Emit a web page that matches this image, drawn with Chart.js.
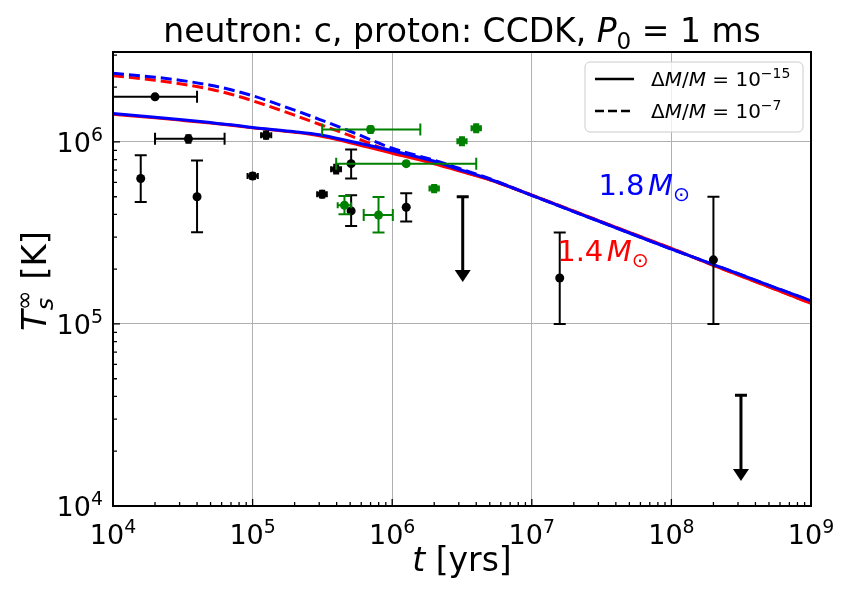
<!DOCTYPE html>
<html>
<head>
<meta charset="utf-8">
<script src="https://cdn.jsdelivr.net/npm/chart.js@4.4.1/dist/chart.umd.min.js"></script>
<style>
  html, body { margin: 0; padding: 0; background: #fff; }
</style>
</head>
<body>
<canvas id="chart" width="850" height="597"></canvas>
<script>
const FONT = '"DejaVu Sans", sans-serif';

// --- cooling curves (age in yrs, surface temperature in K) ---
const ageGrid = [1e4, 2e4, 3e4, 5e4, 7e4, 1e5, 2e5, 3e5, 5e5, 1e6, 2e6, 3e6, 5e6,
                 1e7, 2e7, 3e7, 5e7, 1e8, 2e8, 3e8, 5e8, 1e9];
// dM/M = 1e-15 (solid)
const temp18Thin = [1.432e6, 1.367e6, 1.328e6, 1.278e6, 1.243e6, 1.20e6, 1.138e6, 1.095e6, 1.009e6, 8.95e5, 7.83e5, 7.08e5, 6.24e5,
                    5.09e5, 4.14e5, 3.68e5, 3.16e5, 2.58e5, 2.12e5, 1.89e5, 1.63e5, 1.34e5];
const temp14Thin = [1.419e6, 1.356e6, 1.318e6, 1.27e6, 1.236e6, 1.195e6, 1.13e6, 1.082e6, 0.99e6, 8.67e5, 7.59e5, 6.94e5, 6.2e5,
                    5.1e5, 4.17e5, 3.7e5, 3.18e5, 2.6e5, 2.1e5, 1.86e5, 1.6e5, 1.3e5];
// dM/M = 1e-7 (dashed)
const temp18Thick = [2.385e6, 2.268e6, 2.183e6, 2.049e6, 1.935e6, 1.794e6, 1.494e6, 1.332e6, 1.145e6, 9.23e5, 7.93e5, 7.17e5, 6.28e5,
                     5.09e5, 4.14e5, 3.68e5, 3.16e5, 2.58e5, 2.12e5, 1.89e5, 1.63e5, 1.34e5];
const temp14Thick = [2.311e6, 2.183e6, 2.088e6, 1.948e6, 1.828e6, 1.684e6, 1.402e6, 1.251e6, 1.082e6, 8.84e5, 7.69e5, 6.99e5, 6.2e5,
                     5.1e5, 4.17e5, 3.7e5, 3.18e5, 2.6e5, 2.1e5, 1.86e5, 1.6e5, 1.3e5];

// --- observed neutron stars (black) ---
const obsAge    = [2e4, 3.47e4, 1.58e4, 4e4, 1e5, 1.25e5, 3.15e5, 3.97e5, 5.08e5, 5.08e5, 1.26e6, 1.585e7, 2e8];
const obsAgeLo  = [1e4, 2e4, 1.58e4, 4e4, 9.2e4, 1.15e5, 2.9e5, 3.65e5, 5.08e5, 5.08e5, 1.26e6, 1.585e7, 2e8];
const obsAgeHi  = [4e4, 6.3e4, 1.58e4, 4e4, 1.09e5, 1.36e5, 3.4e5, 4.3e5, 5.08e5, 5.08e5, 1.26e6, 1.585e7, 2e8];
const obsTemp   = [1.77e6, 1.04e6, 6.3e5, 5.0e5, 6.5e5, 1.09e6, 5.16e5, 7.08e5, 7.6e5, 4.18e5, 4.38e5, 1.79e5, 2.25e5];
const obsTempLo = [1.72e6, 0.99e6, 4.68e5, 3.19e5, 6.25e5, 1.04e6, 4.95e5, 6.7e5, 6.3e5, 3.45e5, 3.65e5, 1.0e5, 1.0e5];
const obsTempHi = [1.82e6, 1.09e6, 8.45e5, 7.9e5, 6.75e5, 1.14e6, 5.4e5, 7.5e5, 9.1e5, 5.1e5, 5.22e5, 3.18e5, 5.0e5];

// --- observed neutron stars (green) ---
const grnAge    = [7e5, 1.26e6, 4.55e5, 7.98e5, 2e6, 3.16e6, 4.0e6];
const grnAgeLo  = [3.15e5, 3.97e5, 4.07e5, 6.25e5, 1.85e6, 2.93e6, 3.7e6];
const grnAgeHi  = [1.59e6, 4.0e6, 5.08e5, 1.01e6, 2.16e6, 3.41e6, 4.32e6];
const grnTemp   = [1.17e6, 7.6e5, 4.49e5, 3.97e5, 5.55e5, 1.01e6, 1.19e6];
const grnTempLo = [1.12e6, 7.4e5, 4.01e5, 3.18e5, 5.3e5, 0.96e6, 1.13e6];
const grnTempHi = [1.22e6, 7.8e5, 5.05e5, 4.99e5, 5.8e5, 1.06e6, 1.25e6];

// --- upper limits ---
const limAge  = [3.2e6, 3.15e8];
const limTemp = [5.0e5, 4.06e4];
const limTip  = [1.7e5, 1.37e4];

const xDecades = [4, 5, 6, 7, 8, 9];
const yDecades = [4, 5, 6];

const pts = (xs, ys) => xs.map((x, i) => ({ x, y: ys[i] }));

// --- rich text helper (italics, sub/superscripts) ---
function fnt(size, it) { return `${it ? "italic " : ""}${size}px ${FONT}`; }
function segWidth(ctx, s, size) {
  if (s.stack) {
    ctx.font = fnt(size * 0.7, s.stack[0].it);
    const a = ctx.measureText(s.stack[0].t).width;
    ctx.font = fnt(size * 0.7, s.stack[1].it);
    const b = ctx.measureText(s.stack[1].t).width;
    return Math.max(a, b);
  }
  ctx.font = fnt(s.pos ? size * 0.7 : size, s.it);
  return ctx.measureText(s.t).width + (s.gap || 0) * size;
}
function drawRich(ctx, segs, x, y, size, align) {
  const ws = segs.map(s => segWidth(ctx, s, size));
  const total = ws.reduce((a, b) => a + b, 0);
  let cx = align === "center" ? x - total / 2 : align === "right" ? x - total : x;
  ctx.textAlign = "left";
  ctx.textBaseline = "alphabetic";
  segs.forEach((s, i) => {
    if (s.stack) {
      ctx.font = fnt(size * 0.7, s.stack[0].it);
      ctx.fillText(s.stack[0].t, cx, y + size * 0.22);
      ctx.font = fnt(size * 0.7, s.stack[1].it);
      ctx.fillText(s.stack[1].t, cx, y - size * 0.42);
    } else {
      ctx.font = fnt(s.pos ? size * 0.7 : size, s.it);
      const dy = s.pos === "sup" ? -size * 0.42 : s.pos === "sub" ? size * 0.2 : 0;
      ctx.fillText(s.t, cx, y + dy);
    }
    cx += ws[i];
  });
  return total;
}

// --- error bars + upper limits ---
const errorBarPlugin = {
  id: "errbars",
  afterDatasetsDraw(chart) {
    const { ctx, scales: { x, y } } = chart;
    const bars = (ages, lo, hi, temps, tlo, thi, color) => {
      ctx.save();
      ctx.strokeStyle = color;
      ctx.lineWidth = 2;
      ages.forEach((a, i) => {
        const px = x.getPixelForValue(a), py = y.getPixelForValue(temps[i]);
        if (lo[i] !== hi[i]) {
          const x0 = x.getPixelForValue(lo[i]), x1 = x.getPixelForValue(hi[i]);
          const cap = Math.abs(x1 - x0) < 14 ? 3 : 6;
          ctx.beginPath();
          ctx.moveTo(x0, py); ctx.lineTo(x1, py);
          ctx.moveTo(x0, py - cap); ctx.lineTo(x0, py + cap);
          ctx.moveTo(x1, py - cap); ctx.lineTo(x1, py + cap);
          ctx.stroke();
        }
        if (tlo[i] !== thi[i]) {
          const y0 = y.getPixelForValue(tlo[i]), y1 = y.getPixelForValue(thi[i]);
          const cap = Math.abs(y1 - y0) < 14 ? 3 : 6;
          ctx.beginPath();
          ctx.moveTo(px, y0); ctx.lineTo(px, y1);
          ctx.moveTo(px - cap, y0); ctx.lineTo(px + cap, y0);
          ctx.moveTo(px - cap, y1); ctx.lineTo(px + cap, y1);
          ctx.stroke();
        }
      });
      ctx.restore();
    };
    bars(obsAge, obsAgeLo, obsAgeHi, obsTemp, obsTempLo, obsTempHi, "#000000");
    bars(grnAge, grnAgeLo, grnAgeHi, grnTemp, grnTempLo, grnTempHi, "#008000");

    // upper limits: cap on top, arrow pointing down
    ctx.save();
    ctx.strokeStyle = "#000";
    ctx.fillStyle = "#000";
    ctx.lineWidth = 3;
    limAge.forEach((a, i) => {
      const px = x.getPixelForValue(a);
      const y0 = y.getPixelForValue(limTemp[i]);
      const y1 = y.getPixelForValue(limTip[i]);
      ctx.beginPath();
      ctx.moveTo(px - 6, y0); ctx.lineTo(px + 6, y0);
      ctx.moveTo(px, y0); ctx.lineTo(px, y1 - 10);
      ctx.stroke();
      ctx.beginPath();
      ctx.moveTo(px - 8, y1 - 12); ctx.lineTo(px + 8, y1 - 12); ctx.lineTo(px, y1);
      ctx.closePath();
      ctx.fill();
    });
    ctx.restore();
  }
};

// --- frame, ticks, labels, legend, annotations ---
const decorPlugin = {
  id: "decor",
  afterDraw(chart) {
    const { ctx, chartArea: a, scales: { x, y } } = chart;
    ctx.save();
    ctx.fillStyle = "#000";
    ctx.strokeStyle = "#000";

    // inward ticks on left and bottom
    ctx.lineWidth = 1.3;
    ctx.beginPath();
    for (let n = 4; n <= 9; n++) {
      for (let k = 1; k <= 9; k++) {
        const v = k * Math.pow(10, n);
        if (v > 1e9) break;
        const px = x.getPixelForValue(v);
        const len = k === 1 ? 7 : 4;
        ctx.moveTo(px, a.bottom); ctx.lineTo(px, a.bottom - len);
      }
    }
    for (let n = 4; n <= 6; n++) {
      for (let k = 1; k <= 9; k++) {
        const v = k * Math.pow(10, n);
        if (v > y.max) break;
        const py = y.getPixelForValue(v);
        const len = k === 1 ? 7 : 4;
        ctx.moveTo(a.left, py); ctx.lineTo(a.left + len, py);
      }
    }
    ctx.stroke();

    // spines
    ctx.lineWidth = 2;
    ctx.strokeRect(a.left, a.top, a.right - a.left, a.bottom - a.top);

    // tick labels
    const tsz = 27;
    xDecades.forEach(n => {
      const px = x.getPixelForValue(Math.pow(10, n));
      drawRich(ctx, [{ t: "10" }, { t: String(n), pos: "sup" }], px, a.bottom + 38, tsz, "center");
    });
    yDecades.forEach(n => {
      const py = y.getPixelForValue(Math.pow(10, n));
      drawRich(ctx, [{ t: "10" }, { t: String(n), pos: "sup" }], a.left - 10, py + 10, tsz, "right");
    });

    // title
    drawRich(ctx, [{ t: "neutron: c, proton: CCDK, " }, { t: "P", it: true }, { t: "0", pos: "sub" },
                   { t: " = 1 ms" }], (a.left + a.right) / 2, 42, 33, "center");
    // x label
    drawRich(ctx, [{ t: "t", it: true }, { t: " [yrs]" }], (a.left + a.right) / 2, 571, 33, "center");
    // y label
    ctx.save();
    ctx.translate(46, (a.top + a.bottom) / 2 + 2);
    ctx.rotate(-Math.PI / 2);
    drawRich(ctx, [{ t: "T", it: true }, { stack: [{ t: "s", it: true }, { t: "∞" }] }, { t: " [K]" }],
             0, 0, 34, "center");
    ctx.restore();

    // mass annotations
    ctx.fillStyle = "#0000ff";
    drawRich(ctx, [{ t: "1.8", gap: 0.12 }, { t: "M", it: true }, { t: "⊙", pos: "sub" }],
             x.getPixelForValue(3e7), y.getPixelForValue(5.1e5), 29, "left");
    ctx.fillStyle = "#ff0000";
    drawRich(ctx, [{ t: "1.4", gap: 0.12 }, { t: "M", it: true }, { t: "⊙", pos: "sub" }],
             x.getPixelForValue(1.52e7), y.getPixelForValue(2.21e5), 29, "left");

    // legend
    const lx = 585, ly = 62, lw = 218, lh = 70, r = 5;
    ctx.beginPath();
    ctx.moveTo(lx + r, ly);
    ctx.arcTo(lx + lw, ly, lx + lw, ly + lh, r);
    ctx.arcTo(lx + lw, ly + lh, lx, ly + lh, r);
    ctx.arcTo(lx, ly + lh, lx, ly, r);
    ctx.arcTo(lx, ly, lx + lw, ly, r);
    ctx.closePath();
    ctx.fillStyle = "rgba(255,255,255,0.8)";
    ctx.fill();
    ctx.strokeStyle = "#cccccc";
    ctx.lineWidth = 1;
    ctx.stroke();

    ctx.strokeStyle = "#000";
    ctx.lineWidth = 2.6;
    ctx.beginPath(); ctx.moveTo(595, 79); ctx.lineTo(634, 79); ctx.stroke();
    ctx.setLineDash([9, 4]);
    ctx.beginPath(); ctx.moveTo(595, 111); ctx.lineTo(634, 111); ctx.stroke();
    ctx.setLineDash([]);
    ctx.fillStyle = "#000";
    const lsz = 20;
    drawRich(ctx, [{ t: "Δ" }, { t: "M", it: true }, { t: "/" }, { t: "M", it: true }, { t: " = 10" },
                   { t: "−15", pos: "sup" }], 651, 86, lsz, "left");
    drawRich(ctx, [{ t: "Δ" }, { t: "M", it: true }, { t: "/" }, { t: "M", it: true }, { t: " = 10" },
                   { t: "−7", pos: "sup" }], 651, 118, lsz, "left");
    ctx.restore();
  }
};

const curve = (data, color, dashed, order) => ({
  type: "line",
  data: pts(ageGrid, data),
  borderColor: color,
  borderWidth: 3,
  borderDash: dashed ? [11, 5] : [],
  pointRadius: 0,
  fill: false,
  cubicInterpolationMode: "monotone",
  order
});

const majorTicks = (decs) => (scale) => {
  scale.ticks = decs.map(n => ({ value: Math.pow(10, n) }));
};

new Chart(document.getElementById("chart").getContext("2d"), {
  type: "scatter",
  data: {
    datasets: [
      curve(temp14Thick, "#ff0000", true, 6),
      curve(temp18Thick, "#0000ff", true, 5),
      curve(temp14Thin, "#ff0000", false, 4),
      curve(temp18Thin, "#0000ff", false, 3),
      {
        data: pts(grnAge, grnTemp), showLine: false, order: 2,
        pointRadius: 4.5, pointBackgroundColor: "#008000", pointBorderWidth: 0
      },
      {
        data: pts(obsAge, obsTemp), showLine: false, order: 1,
        pointRadius: 4.5, pointBackgroundColor: "#000000", pointBorderWidth: 0
      }
    ]
  },
  options: {
    responsive: false,
    animation: false,
    layout: { padding: { top: 52, right: 39, left: 0, bottom: 0 } },
    plugins: { legend: { display: false }, tooltip: { enabled: false } },
    scales: {
      x: {
        type: "logarithmic", min: 1e4, max: 1e9,
        afterBuildTicks: majorTicks(xDecades),
        afterFit: (s) => { s.height = 91; },
        ticks: { display: false },
        grid: { color: "#b0b0b0", lineWidth: 1, drawTicks: false },
        border: { display: false }
      },
      y: {
        type: "logarithmic", min: 1e4, max: 3.12e6,
        afterBuildTicks: majorTicks(yDecades),
        afterFit: (s) => { s.width = 113; },
        ticks: { display: false },
        grid: { color: "#b0b0b0", lineWidth: 1, drawTicks: false },
        border: { display: false }
      }
    }
  },
  plugins: [errorBarPlugin, decorPlugin]
});
</script>
</body>
</html>
